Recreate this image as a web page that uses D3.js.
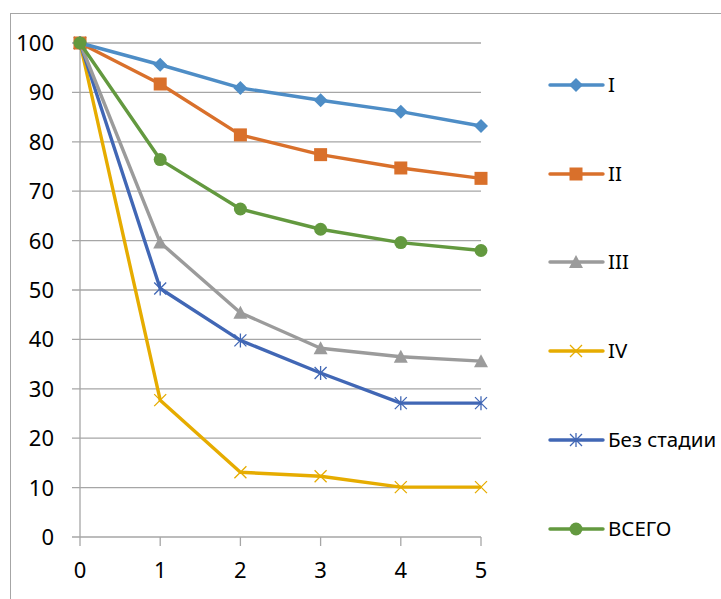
<!DOCTYPE html>
<html>
<head>
<meta charset="utf-8">
<script src="https://cdn.jsdelivr.net/npm/d3@7"></script>
<style>
  body { margin: 0; background: #fff; }
  svg { display: block; font-family: "Noto Sans", "Open Sans", sans-serif; }
</style>
</head>
<body>
<div id="chart"></div>
<script>
// Survival by stage (years 0..5)
const years = [0, 1, 2, 3, 4, 5];
const seriesNames = ['I', 'II', 'III', 'IV', 'Без стадии', 'ВСЕГО'];
const stageI = [100, 95.6, 90.9, 88.4, 86.1, 83.2];
const stageII = [100, 91.7, 81.4, 77.4, 74.7, 72.6];
const stageIII = [100, 59.6, 45.4, 38.2, 36.5, 35.6];
const stageIV = [100, 27.7, 13.1, 12.3, 10.1, 10.1];
const noStage = [100, 50.3, 39.8, 33.2, 27.1, 27.1];
const total = [100, 76.4, 66.4, 62.3, 59.6, 58.0];
const yTicks = [0, 10, 20, 30, 40, 50, 60, 70, 80, 90, 100];

const allValues = [stageI, stageII, stageIII, stageIV, noStage, total];
const colors = ['#4e8dc6', '#d9702b', '#9b9b9b', '#e6ac00', '#4167b5', '#63993f'];
const markers = ['diamond', 'square', 'triangle', 'x', 'star', 'circle'];

const W = 721, H = 599;
const svg = d3.select("#chart").append("svg")
    .attr("width", W)
    .attr("height", H);

// outer chart frame
svg.append("rect")
    .attr("x", 10.5).attr("y", 13.5)
    .attr("width", W).attr("height", H)
    .attr("fill", "none")
    .attr("stroke", "#a6a6a6")
    .attr("stroke-width", 1);

const x = d3.scaleLinear().domain([0, 5]).range([80, 481]);
const y = d3.scaleLinear().domain([0, 100]).range([537, 43]);

// horizontal gridlines
svg.append("g")
    .selectAll("line")
    .data(yTicks)
    .enter().append("line")
    .attr("x1", 72).attr("x2", x(5))
    .attr("y1", d => y(d)).attr("y2", d => y(d))
    .attr("stroke", "#a6a6a6")
    .attr("stroke-width", 1.3);

// y axis line
svg.append("line")
    .attr("x1", x(0)).attr("x2", x(0))
    .attr("y1", y(100)).attr("y2", y(0))
    .attr("stroke", "#a6a6a6")
    .attr("stroke-width", 1.3);

// x ticks
svg.append("g")
    .selectAll("line")
    .data(years)
    .enter().append("line")
    .attr("x1", d => x(d)).attr("x2", d => x(d))
    .attr("y1", y(0)).attr("y2", y(0) + 9)
    .attr("stroke", "#a6a6a6")
    .attr("stroke-width", 1.3);

// tick labels
svg.append("g")
    .selectAll("text")
    .data(yTicks)
    .enter().append("text")
    .attr("x", 54)
    .attr("y", d => y(d) + 8)
    .attr("text-anchor", "end")
    .style("font-size", "22px")
    .attr("fill", "#000")
    .text(d => d);

svg.append("g")
    .selectAll("text")
    .data(years)
    .enter().append("text")
    .attr("x", d => x(d))
    .attr("y", 578)
    .attr("text-anchor", "middle")
    .style("font-size", "22px")
    .attr("fill", "#000")
    .text(d => d);

function drawMarker(g, type, color) {
    if (type === 'diamond') {
        g.append("path").attr("d", "M0,-7L7,0L0,7L-7,0Z").attr("fill", color);
    } else if (type === 'square') {
        g.append("rect").attr("x", -6.5).attr("y", -6.5).attr("width", 13).attr("height", 13).attr("fill", color);
    } else if (type === 'triangle') {
        g.append("path").attr("d", "M0,-7L7,6L-7,6Z").attr("fill", color);
    } else if (type === 'circle') {
        g.append("circle").attr("r", 6.5).attr("fill", color);
    } else if (type === 'x') {
        g.append("path").attr("d", "M-6,-6L6,6M6,-6L-6,6")
            .attr("stroke", color).attr("stroke-width", 1.3).attr("fill", "none");
    } else if (type === 'star') {
        g.append("path").attr("d", "M-6,-6L6,6M6,-6L-6,6M0,-7L0,7")
            .attr("stroke", color).attr("stroke-width", 1.3).attr("fill", "none");
    }
}

const line = d3.line()
    .x((d, i) => x(years[i]))
    .y(d => y(d));

// draw series (total last so it lies on top at 0)
const order = [3, 4, 2, 1, 0, 5];
order.forEach(si => {
    const g = svg.append("g");
    g.append("path")
        .datum(allValues[si])
        .attr("fill", "none")
        .attr("stroke", colors[si])
        .attr("stroke-width", 3.4)
        .attr("stroke-linejoin", "round")
        .attr("d", line);
    allValues[si].forEach((v, i) => {
        const m = g.append("g").attr("transform", `translate(${x(years[i])},${y(v)})`);
        drawMarker(m, markers[si], colors[si]);
    });
});

// legend
const legendY = [85, 174, 262, 351, 440, 529];
seriesNames.forEach((name, i) => {
    const row = svg.append("g").attr("transform", `translate(0,${legendY[i]})`);
    row.append("line")
        .attr("x1", 550).attr("x2", 603)
        .attr("stroke", colors[i])
        .attr("stroke-width", 3.4)
        .attr("stroke-linecap", "round");
    const m = row.append("g").attr("transform", "translate(576,0)");
    drawMarker(m, markers[i], colors[i]);
    row.append("text")
        .attr("x", 608)
        .attr("y", 7)
        .style("font-size", "20.5px")
        .attr("fill", "#000")
        .text(name);
});
</script>
</body>
</html>
